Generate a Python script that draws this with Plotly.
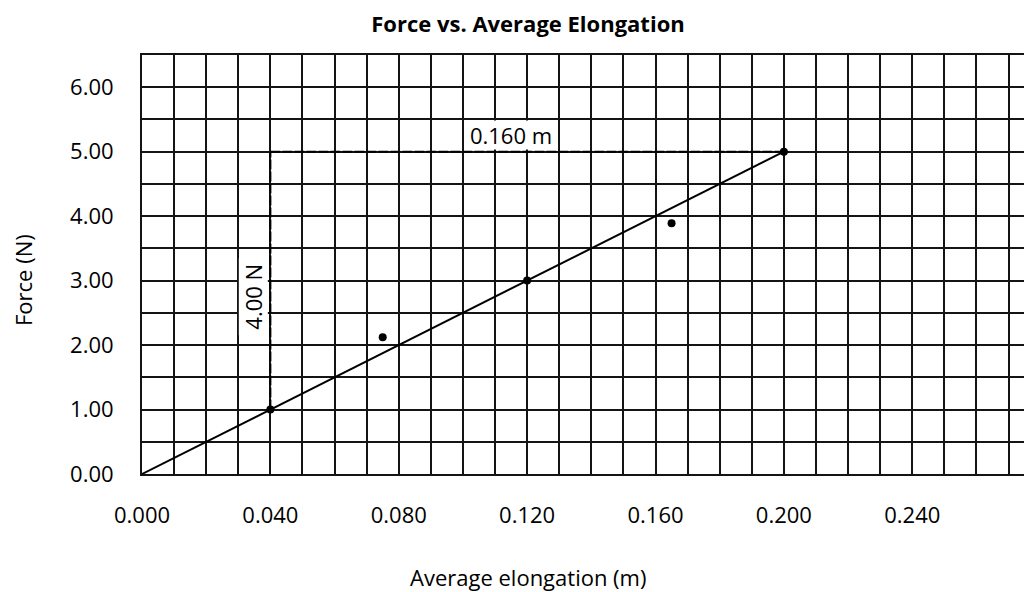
import plotly.graph_objects as go

# Data
elong = [0.040, 0.075, 0.120, 0.165, 0.200]
force = [1.00, 2.12, 3.00, 3.89, 5.00]

fit_x = [0.000, 0.200]
fit_y = [0.00, 5.00]

rise_x = [0.040, 0.040]
rise_y = [1.00, 5.00]
run_x = [0.040, 0.200]
run_y = [5.00, 5.00]

x_ticks = [0.000, 0.040, 0.080, 0.120, 0.160, 0.200, 0.240]
x_tick_text = ["0.000", "0.040", "0.080", "0.120", "0.160", "0.200", "0.240"]
y_ticks = [0, 1, 2, 3, 4, 5, 6]
y_tick_text = ["0.00", "1.00", "2.00", "3.00", "4.00", "5.00", "6.00"]

FONT = "Open Sans"
GRID = "#141414"
OFF = 8  # page body margin

fig = go.Figure()
fig.add_trace(go.Scatter(x=rise_x, y=rise_y, mode="lines",
                         line=dict(color="black", width=2, dash="10px,2px"), hoverinfo="skip"))
fig.add_trace(go.Scatter(x=run_x, y=run_y, mode="lines",
                         line=dict(color="black", width=2, dash="10px,2px"), hoverinfo="skip"))
fig.add_trace(go.Scatter(x=fit_x, y=fit_y, mode="lines",
                         line=dict(color="black", width=2)))
fig.add_trace(go.Scatter(x=elong, y=force, mode="markers",
                         marker=dict(color="black", size=8)))

W, H = 1032 - OFF, 592 - OFF
fig.update_layout(
    width=W, height=H,
    margin=dict(l=142 - OFF, r=0, t=55 - OFF, b=118),
    paper_bgcolor="white", plot_bgcolor="white",
    showlegend=False,
    font=dict(family=FONT, color="black"),
    title=dict(text="<b>Force vs. Average Elongation</b>", xref="container", yref="container",
               x=(528 - OFF) / W, xanchor="center", y=1 - (24 - OFF) / H, yanchor="middle",
               font=dict(family=FONT, size=22, color="black")),
)

fig.update_xaxes(
    range=[0, 0.2773], tickvals=x_ticks, ticktext=x_tick_text,
    tickfont=dict(family=FONT, size=22, color="black"),
    ticks="", ticklabelstandoff=21,
    showgrid=True, gridcolor=GRID, gridwidth=1.8,
    minor=dict(dtick=0.01, tick0=0, showgrid=True, gridcolor=GRID, gridwidth=1.8),
    showline=True, linecolor=GRID, linewidth=2, mirror=True,
    zeroline=False,
)
fig.update_yaxes(
    range=[0, 6.5], tickvals=y_ticks, ticktext=y_tick_text,
    tickfont=dict(family=FONT, size=22, color="black"),
    ticks="", ticklabelstandoff=22,
    showgrid=True, gridcolor=GRID, gridwidth=1.8,
    minor=dict(dtick=0.5, tick0=0, showgrid=True, gridcolor=GRID, gridwidth=1.8),
    showline=True, linecolor=GRID, linewidth=2,
    zeroline=False,
)

fig.add_annotation(text="0.160 m", x=0.1151, y=5.26, xref="x", yref="y", showarrow=False,
                   font=dict(family=FONT, size=22, color="black"),
                   bgcolor="white", width=90, height=28, borderpad=0)
fig.add_annotation(text="4.00 N", x=0.0346, y=2.75, xref="x", yref="y", showarrow=False,
                   textangle=-90, font=dict(family=FONT, size=22, color="black"),
                   bgcolor="white", width=76, height=28, borderpad=0)

fig.add_annotation(text="Average elongation (m)", xref="paper", yref="paper",
                   x=(527.5 - 142) / 890, y=(474.5 - 577) / 419, showarrow=False,
                   xanchor="center", yanchor="middle",
                   font=dict(family=FONT, size=22, color="black"))
fig.add_annotation(text="Force (N)", xref="paper", yref="paper",
                   x=(23 - 142) / 890, y=(474.5 - 280.5) / 419, showarrow=False,
                   textangle=-90, xanchor="center", yanchor="middle",
                   font=dict(family=FONT, size=22, color="black"))

fig.write_html("out.html")
